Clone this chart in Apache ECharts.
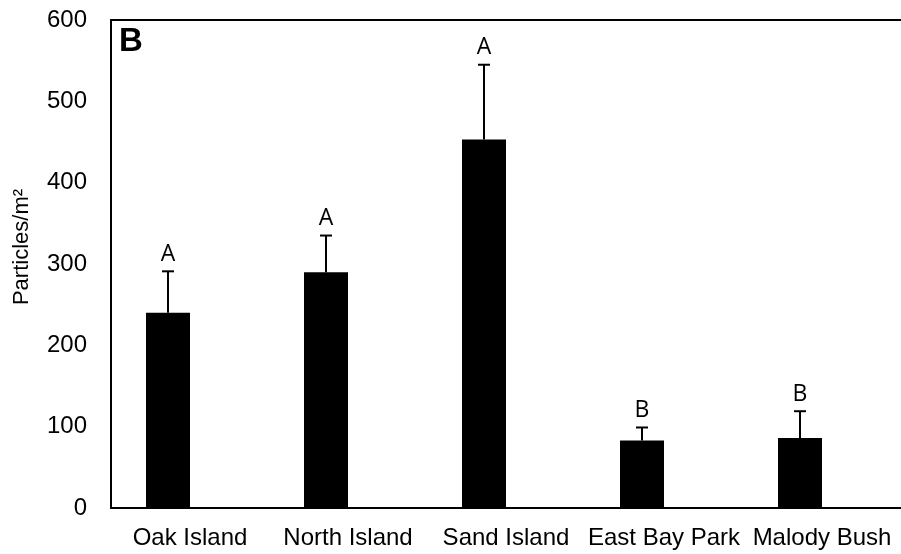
<!DOCTYPE html>
<html>
<head>
<meta charset="utf-8">
<script src="https://cdn.jsdelivr.net/npm/echarts@6/dist/echarts.min.js"></script>
<style>
  html, body { margin: 0; padding: 0; background: #fff; }
  #chart { width: 901px; height: 554px; }
</style>
</head>
<body>
<div id="chart"></div>
<script>
// Sites sampled and mean particle density (particles per square metre)
const sites = ['Oak Island', 'North Island', 'Sand Island', 'East Bay Park', 'Malody Bush'];
const meanDensity = [240, 290, 453, 83, 86];
const stdError = [51, 45, 92, 16, 33];
const groupLetters = ['A', 'A', 'A', 'B', 'B'];
const yTicks = [0, 100, 200, 300, 400, 500, 600];

const axisFont = 'Liberation Sans, Arial, sans-serif';
const letterFont = 'Open Sans, Noto Sans, sans-serif';
const BAR_W = 44;

const chart = echarts.init(document.getElementById('chart'), null, { renderer: 'canvas' });

// error bar + significance letter: [category index, mean, mean + SE, letter]
const errData = meanDensity.map((v, i) => [i, v, v + stdError[i], groupLetters[i]]);

chart.setOption({
  animation: false,
  backgroundColor: '#ffffff',
  grid: { left: 111, right: 0, top: 20, bottom: 46, containLabel: false, show: false },
  xAxis: [
    {
      type: 'category',
      data: sites,
      axisLine: { show: true, onZero: false, lineStyle: { color: '#000', width: 2 } },
      axisTick: { show: false },
      splitLine: { show: false },
      axisLabel: { interval: 0, color: '#000', fontFamily: axisFont, fontSize: 24, margin: 18 }
    },
    {
      // top edge of the plot frame
      type: 'category',
      data: sites,
      position: 'top',
      axisLine: { show: true, onZero: false, lineStyle: { color: '#000', width: 2 } },
      axisTick: { show: false },
      axisLabel: { show: false },
      splitLine: { show: false }
    }
  ],
  yAxis: {
    type: 'value',
    min: yTicks[0],
    max: yTicks[yTicks.length - 1],
    interval: 100,
    name: 'Particles/m²',
    nameLocation: 'middle',
    nameRotate: 90,
    nameGap: 78,
    nameTextStyle: { color: '#000', fontFamily: axisFont, fontSize: 22, padding: [0, 0, 0, 34] },
    axisLine: { show: true, lineStyle: { color: '#000', width: 2 } },
    axisTick: { show: false },
    splitLine: { show: false },
    axisLabel: { color: '#000', fontFamily: axisFont, fontSize: 24, margin: 24 }
  },
  graphic: [
    { type: 'text', left: 119, top: 25, style: { text: 'B', font: 'bold 33px ' + axisFont, fill: '#000' } }
  ],
  series: [
    {
      name: 'Particles',
      type: 'bar',
      data: meanDensity,
      barWidth: BAR_W,
      barGap: '0%',
      itemStyle: { color: '#000' }
    },
    {
      // empty companion series: keeps the clustered slot beside each bar
      name: 'Companion',
      type: 'bar',
      data: [],
      barWidth: BAR_W,
      barGap: '0%',
      itemStyle: { color: '#000' }
    },
    {
      type: 'custom',
      data: errData,
      dimensions: ['idx', 'mean', 'upper', 'letter'],
      encode: { x: 0, y: [1, 2] },
      renderItem: function (params, api) {
        const i = api.value(0);
        const base = api.coord([i, api.value(1)]);
        const top = api.coord([i, api.value(2)]);
        const x = base[0] - BAR_W / 2;
        const cap = 6;
        return {
          type: 'group',
          children: [
            { type: 'line', shape: { x1: x, y1: base[1], x2: x, y2: top[1] }, style: { stroke: '#000', lineWidth: 2 } },
            { type: 'line', shape: { x1: x - cap, y1: top[1], x2: x + cap, y2: top[1] }, style: { stroke: '#000', lineWidth: 2 } },
            {
              type: 'text',
              x: x,
              y: top[1] - 17,
              style: {
                text: api.value(3),
                fill: '#000',
                font: '23px ' + letterFont,
                align: 'center',
                verticalAlign: 'middle'
              }
            }
          ]
        };
      }
    }
  ]
});
</script>
</body>
</html>
